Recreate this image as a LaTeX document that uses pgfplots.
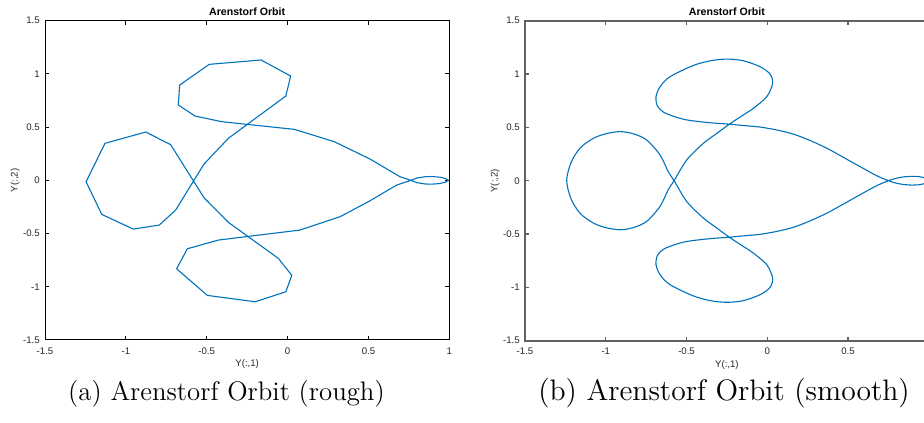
\documentclass[border=0pt]{standalone}
\usepackage{fontspec}
\usepackage{pgfplots}
\pgfplotsset{compat=1.18}
\newfontfamily\arial{Liberation Sans}
\definecolor{mblue}{rgb}{0,0.447,0.741}
\definecolor{mgray}{rgb}{0.15,0.15,0.15}
\definecolor{agray}{rgb}{0.38,0.38,0.38}

\pgfplotsset{
  every axis title/.style={at={(axis description cs:0.5,1.028)},anchor=center,font=\arial\fontsize{5.3}{6}\selectfont\bfseries, inner sep=0pt},
  morb/.style={
    scale only axis,
    xmin=-1.5,xmax=1,ymin=-1.5,ymax=1.5,
    xtick={-1.5,-1,-0.5,0,0.5,1},
    ytick={-1.5,-1,-0.5,0,0.5,1,1.5},
    xticklabels={-1.5,-1,-0.5,0,0.5,1},
    yticklabels={-1.5,-1,-0.5,0,0.5,1,1.5},
    tick align=inside,
    major tick length=2pt,
    font=\arial\fontsize{4.8}{5.5}\selectfont,
    tick label style={text=mgray, inner sep=0pt},
    xticklabel style={yshift=-3.5pt},
    yticklabel style={xshift=-2.5pt},
    title={Arenstorf Orbit},
    xlabel={Y(:,1)}, ylabel={Y(:,2)},
    xlabel style={at={(axis description cs:0.5,-0.075)},anchor=center,text=mgray, inner sep=0pt},
    ylabel style={at={(axis description cs:-0.074,0.5)},anchor=center,text=mgray, inner sep=0pt},
  }
}

\begin{document}
\begin{tikzpicture}
\path[use as bounding box] (0,0) rectangle (462pt,211pt);
\clip (0,0) rectangle (462pt,211pt);

\begin{axis}[morb, at={(22.5pt,41pt)}, anchor=south west,
  width=202.15pt, height=159.65pt,
  axis line style={black,line width=0.5pt},
  major tick style={black,line width=0.5pt}]
\addplot[mblue, line width=0.55pt] coordinates {
(0.994,0) (0.975,-0.018) (0.94,-0.03) (0.891,-0.036) (0.85,-0.034) (0.80,-0.022)
(0.762,0) (0.695,0.034) (0.51,0.2) (0.289,0.363) (0.042,0.479) (-0.407,0.551)
(-0.572,0.604) (-0.676,0.708) (-0.667,0.896) (-0.484,1.09) (-0.164,1.131)
(0.019,0.98) (-0.011,0.792) (-0.366,0.395) (-0.517,0.153) (-0.692,-0.279)
(-0.793,-0.42) (-0.954,-0.458) (-1.149,-0.32) (-1.246,-0.013) (-1.129,0.348)
(-0.877,0.454) (-0.723,0.335) (-0.517,-0.163) (-0.366,-0.395) (-0.057,-0.733)
(0.026,-0.893) (-0.011,-1.047) (-0.201,-1.141) (-0.496,-1.081) (-0.686,-0.831)
(-0.62,-0.643) (-0.428,-0.561) (0.077,-0.467) (0.324,-0.342) (0.5,-0.2)
(0.675,-0.044) (0.762,0) (0.80,0.022) (0.85,0.034) (0.891,0.036) (0.94,0.03)
(0.975,0.018) (0.994,0)
};
\end{axis}

\begin{axis}[morb, at={(262.5pt,40.65pt)}, anchor=south west,
  width=201.9pt, height=160pt,
  axis line style={agray,line width=0.9pt},
  major tick style={agray,line width=0.6pt}]
\addplot[mblue, line width=0.55pt, smooth] coordinates {
(0.994,0) (0.975,-0.025) (0.94,-0.038) (0.894,-0.041) (0.84,-0.035) (0.79,-0.02)
(0.75,0) (0.677,0.047) (0.574,0.132) (0.47,0.22) (0.368,0.305) (0.26,0.38)
(0.161,0.437) (0.06,0.475) (-0.045,0.503) (-0.14,0.516) (-0.235,0.53)
(-0.33,0.54) (-0.416,0.553) (-0.5,0.57) (-0.561,0.594) (-0.64,0.64)
(-0.68,0.70) (-0.689,0.787) (-0.664,0.881) (-0.602,0.975)
(-0.458,1.08) (-0.35,1.125) (-0.251,1.14) (-0.15,1.125) (-0.045,1.069)
(0.017,1.0) (0.033,0.913) (-0.003,0.788) (-0.086,0.679) (-0.16,0.605)
(-0.235,0.53) (-0.316,0.44) (-0.396,0.35) (-0.499,0.194) (-0.577,0)
(-0.613,-0.084) (-0.664,-0.241) (-0.747,-0.382) (-0.83,-0.44) (-0.912,-0.46)
(-1.0,-0.44) (-1.077,-0.397) (-1.159,-0.306) (-1.215,-0.17) (-1.242,0)
(-1.215,0.17) (-1.159,0.306) (-1.077,0.397) (-1.0,0.44) (-0.912,0.46)
(-0.83,0.44) (-0.747,0.382) (-0.664,0.241) (-0.613,0.084) (-0.577,0)
(-0.499,-0.194) (-0.396,-0.35) (-0.316,-0.44) (-0.235,-0.53) (-0.16,-0.605)
(-0.086,-0.679) (-0.003,-0.788) (0.033,-0.913) (0.017,-1.0) (-0.045,-1.069)
(-0.15,-1.125) (-0.251,-1.14) (-0.35,-1.125) (-0.458,-1.08) (-0.602,-0.975)
(-0.664,-0.881) (-0.689,-0.787) (-0.68,-0.70) (-0.64,-0.64)
(-0.561,-0.594) (-0.5,-0.57) (-0.416,-0.553) (-0.33,-0.54) (-0.235,-0.53)
(-0.14,-0.516) (-0.045,-0.503) (0.06,-0.475) (0.161,-0.437) (0.26,-0.38)
(0.368,-0.305) (0.47,-0.22) (0.574,-0.132) (0.677,-0.047) (0.75,0)
(0.79,0.02) (0.84,0.035) (0.894,0.041) (0.94,0.038) (0.975,0.025) (0.994,0)
};
\end{axis}

\node[font=\fontsize{13.4}{16}\selectfont, anchor=base, inner sep=0pt] at (113.25pt,10.65pt) {(a) Arenstorf Orbit (rough)};
\node[font=\fontsize{14.8}{17}\selectfont, anchor=base, inner sep=0pt] at (362pt,10.65pt) {(b) Arenstorf Orbit (smooth)};
\end{tikzpicture}
\end{document}
